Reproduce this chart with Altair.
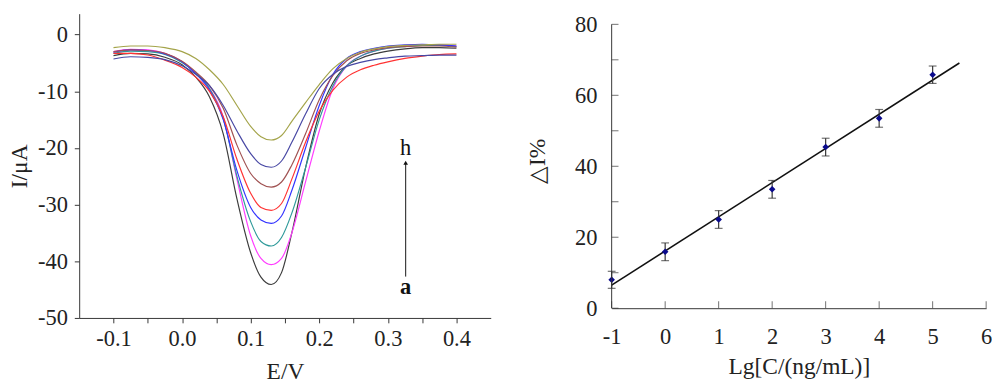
import altair as alt
import pandas as pd

# ---------------- left panel: voltammograms a..h ----------------
E = [-0.1, -0.075, -0.05, -0.025, 0.0, 0.02, 0.04, 0.06, 0.08, 0.1, 0.115, 0.13,
     0.145, 0.16, 0.18, 0.2, 0.22, 0.24, 0.26, 0.28, 0.3, 0.325, 0.35, 0.375, 0.4]

curve_a = [-3.7, -3.3, -3.4, -4.0, -5.3, -7.5, -11.0, -17.5, -29.0, -38.5, -42.8, -44.1,
           -42.0, -35.0, -23.5, -14.0, -8.5, -5.5, -4.2, -3.4, -2.9, -2.5, -2.3, -2.3, -2.4]
curve_b = [-3.0, -2.6, -2.7, -3.3, -4.8, -6.8, -9.5, -14.5, -25.5, -35.5, -39.5, -40.6,
           -39.5, -35.0, -26.0, -17.0, -9.5, -5.5, -3.8, -2.9, -2.4, -2.0, -1.8, -1.8, -2.0]
curve_c = [-3.3, -2.9, -3.0, -3.5, -4.9, -6.8, -9.5, -14.8, -25.0, -33.0, -36.5, -37.3,
           -35.8, -31.5, -23.5, -15.0, -9.0, -5.5, -3.8, -2.9, -2.4, -2.1, -1.9, -1.9, -2.1]
curve_d = [-3.1, -2.7, -2.8, -3.4, -4.8, -6.9, -9.8, -15.0, -24.0, -30.5, -32.7, -33.3,
           -32.0, -27.5, -20.0, -12.5, -7.0, -4.2, -3.0, -2.4, -2.0, -1.8, -1.7, -1.8, -2.0]
curve_e = [-3.3, -3.3, -3.6, -4.5, -5.8, -7.5, -10.0, -14.5, -22.0, -28.0, -30.5, -31.0,
           -29.8, -25.5, -19.0, -13.5, -9.8, -7.5, -6.2, -5.4, -4.8, -4.2, -3.8, -3.5, -3.4]
curve_f = [-3.0, -2.7, -2.8, -3.3, -4.7, -6.6, -9.0, -13.0, -19.5, -24.5, -26.3, -26.9,
           -26.0, -23.0, -17.5, -11.5, -7.2, -4.6, -3.3, -2.7, -2.3, -2.1, -2.0, -2.0, -2.2]
curve_g = [-4.3, -3.9, -4.0, -4.4, -5.5, -7.0, -9.0, -12.5, -17.0, -21.0, -22.9, -23.4,
           -22.3, -19.0, -14.0, -9.5, -7.0, -5.6, -4.9, -4.4, -4.1, -3.8, -3.7, -3.6, -3.6]
curve_h = [-2.3, -2.0, -2.0, -2.3, -3.0, -4.2, -6.2, -8.8, -12.5, -16.2, -18.0, -18.6,
           -17.8, -15.3, -12.0, -8.8, -6.0, -4.2, -3.1, -2.5, -2.1, -1.9, -1.8, -1.7, -1.7]

curve_names = ["a", "b", "c", "d", "e", "f", "g", "h"]
curve_colors = ["#3c3c3c", "#ff3cff", "#2f9a9a", "#3333ff", "#ff3333", "#a05252", "#4848a4", "#a4a44a"]
curves = [curve_a, curve_b, curve_c, curve_d, curve_e, curve_f, curve_g, curve_h]

rows = []
for name, vals in zip(curve_names, curves):
    for e, i in zip(E, vals):
        rows.append({"curve": name, "E": e, "I": i})
df_left = pd.DataFrame(rows)

x_ticks_left = [-0.1, -0.05, 0.0, 0.05, 0.1, 0.15, 0.2, 0.25, 0.3, 0.35, 0.4]
y_ticks_left = [-50, -45, -40, -35, -30, -25, -20, -15, -10, -5, 0]

arrow_x = [0.326]
arrow_bottom = [-42.7]
arrow_top = [-22.6]
label_pos = pd.DataFrame({"E": [0.326, 0.326], "I": [-20.0, -44.6], "t": ["h", "a"]})

# ---------------- right panel: calibration ----------------
lgC = [-1, 0, 1, 2, 3, 4, 5]
dI = [8.0, 15.9, 25.0, 33.5, 45.4, 53.5, 65.8]
err = [2.4, 2.5, 2.5, 2.5, 2.5, 2.5, 2.45]
fit_x = [-1.0, 5.5]
fit_y = [6.5, 69.1]
x_ticks_right = [-1, 0, 1, 2, 3, 4, 5, 6]
y_ticks_right = [0, 10, 20, 30, 40, 50, 60, 70, 80]

FONT = "Liberation Serif"
INK = "#222222"
AX = "#333333"

minus_fix = "replace(format(datum.value, '{f}'), '\u2212', '-')"

xs_left = alt.X("E:Q", scale=alt.Scale(domain=[-0.15, 0.45], nice=False, zero=False),
                axis=alt.Axis(values=x_ticks_left, title="E/V",
                              labelExpr="round(datum.value*100) % 10 == 0 ? " + minus_fix.format(f=".1f") + " : ''",
                              tickSize=5, labelPadding=5, titlePadding=10))
ys_left = alt.Y("I:Q", scale=alt.Scale(domain=[-50, 3.7], nice=False, zero=False),
                axis=alt.Axis(values=y_ticks_left, title="I/\u03bcA",
                              labelExpr="datum.value % 10 == 0 ? " + minus_fix.format(f="d") + " : ''",
                              tickSize=5, labelPadding=7, titlePadding=6))

lines = alt.Chart(df_left).mark_line(strokeWidth=1.2, interpolate="monotone").encode(
    x=xs_left, y=ys_left,
    color=alt.Color("curve:N", scale=alt.Scale(domain=curve_names, range=curve_colors), legend=None),
    detail="curve:N",
)

df_arrow = pd.DataFrame({"E": arrow_x, "I": arrow_bottom, "I2": arrow_top})
arrow = alt.Chart(df_arrow).mark_rule(color="#111111", strokeWidth=1).encode(
    x="E:Q", y="I:Q", y2="I2:Q")
arrowhead = alt.Chart(df_arrow).mark_point(shape="triangle-up", filled=True, color="#111111",
                                           size=22, opacity=1).encode(x="E:Q", y="I2:Q")
txt_h = alt.Chart(label_pos.iloc[[0]]).mark_text(font=FONT, fontSize=23, color="#111111").encode(
    x="E:Q", y="I:Q", text="t:N")
txt_a = alt.Chart(label_pos.iloc[[1]]).mark_text(font=FONT, fontSize=23, fontWeight="bold",
                                                 color="#111111").encode(x="E:Q", y="I:Q", text="t:N")

left = alt.layer(lines, arrow, arrowhead, txt_h, txt_a).properties(width=422, height=312)

# right
df_pts = pd.DataFrame({"x": lgC, "y": dI, "lo": [v - e for v, e in zip(dI, err)],
                       "hi": [v + e for v, e in zip(dI, err)]})
df_fit = pd.DataFrame({"x": fit_x, "y": fit_y})

xs_right = alt.X("x:Q", scale=alt.Scale(domain=[-1, 6], nice=False, zero=False),
                 axis=alt.Axis(values=x_ticks_right, title="Lg[C/(ng/mL)]", ticks=False,
                               labelExpr=minus_fix.format(f="d"), labelPadding=18, titlePadding=7))
ys_right = alt.Y("y:Q", scale=alt.Scale(domain=[0, 83.0], nice=False),
                 axis=alt.Axis(values=y_ticks_right, title="\u25b3I%", ticks=False, domain=False,
                               labelPadding=15, titlePadding=26))

fit = alt.Chart(df_fit).mark_line(color="#111111", strokeWidth=1.6).encode(x=xs_right, y=ys_right)
bars = alt.Chart(df_pts).mark_rule(color="#333333", strokeWidth=1.2).encode(
    x="x:Q", y="lo:Q", y2="hi:Q")
cap_lo = alt.Chart(df_pts).mark_tick(orient="horizontal", size=8, thickness=1.2, color="#333333").encode(
    x="x:Q", y="lo:Q")
cap_hi = alt.Chart(df_pts).mark_tick(orient="horizontal", size=8, thickness=1.2, color="#333333").encode(
    x="x:Q", y="hi:Q")
pts = alt.Chart(df_pts).mark_point(shape="diamond", filled=True, color="#0a0a8c", size=45,
                                   opacity=1).encode(x="x:Q", y="y:Q")
df_yt = pd.DataFrame({"x": [-1] * len(y_ticks_right), "y": y_ticks_right})
df_xt = pd.DataFrame({"x": x_ticks_right, "y": [0] * len(x_ticks_right)})
df_yline = pd.DataFrame({"x": [x_ticks_right[0]], "y": [y_ticks_right[0]], "y2": [y_ticks_right[-1]]})
yline = alt.Chart(df_yline).mark_rule(color=AX, strokeWidth=1).encode(x="x:Q", y="y:Q", y2="y2:Q")
yt = alt.Chart(df_yt).mark_tick(orient="horizontal", size=7, thickness=1, xOffset=3.5, color=AX).encode(
    x="x:Q", y="y:Q")
xt = alt.Chart(df_xt).mark_tick(orient="vertical", size=7, thickness=1, yOffset=-3.5, color=AX).encode(
    x="x:Q", y="y:Q")

right = alt.layer(fit, bars, cap_lo, cap_hi, pts, yline, yt, xt).properties(width=384, height=302)

chart = alt.hconcat(left, right, spacing=36).properties(padding=0).configure_view(
    stroke=None
).configure_axis(
    grid=False, domainColor=AX, tickColor=AX, domainWidth=1, tickWidth=1,
    labelFont=FONT, titleFont=FONT, labelFontSize=23, titleFontSize=24,
    labelColor=INK, titleColor=INK, titleFontWeight="normal", labelFlush=False,
    labelOverlap=False,
)

chart.save("out.html", embed_options={"renderer": "svg", "actions": False})
